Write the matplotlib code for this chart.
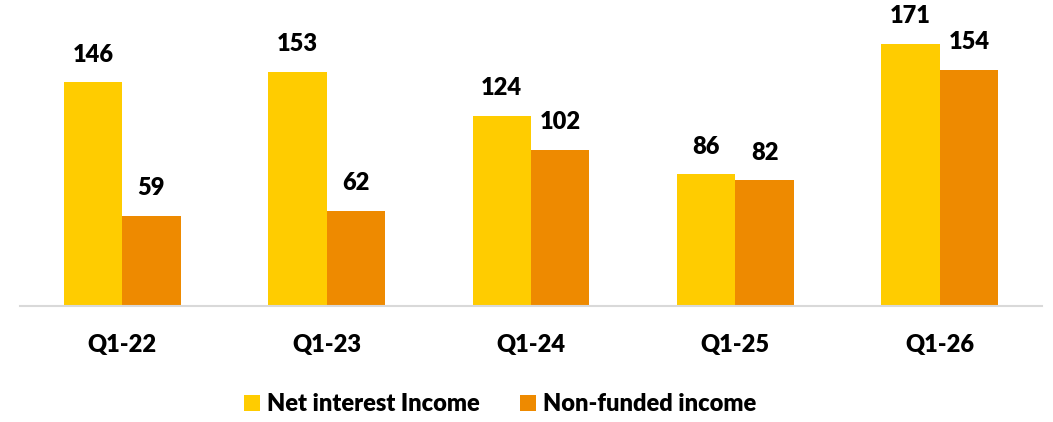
import matplotlib
matplotlib.use("Agg")
import matplotlib.pyplot as plt
import numpy as np

categories = ["Q1-22", "Q1-23", "Q1-24", "Q1-25", "Q1-26"]
net_interest = [146, 153, 124, 86, 171]
non_funded = [59, 62, 102, 82, 154]
series_names = ["Net interest Income", "Non-funded income"]

plt.rcParams['font.family'] = ['Lato', 'DejaVu Sans']
WEIGHT = "heavy"

fig = plt.figure(figsize=(10.53, 4.22), dpi=100)
ax = fig.add_axes([20/1053, 116/422, 1022/1053, 291/422])

x = np.arange(len(categories))
w = 0.286
yellow = "#FFCC00"
orange = "#EE8A00"
b1 = ax.bar(x - w/2, net_interest, w, color=yellow, label=series_names[0])
b2 = ax.bar(x + w/2, non_funded, w, color=orange, label=series_names[1])

for bars, vals in ((b1, net_interest), (b2, non_funded)):
    for r, v in zip(bars, vals):
        ax.annotate(str(v), (r.get_x() + r.get_width()/2, v), xytext=(0, 12),
                    textcoords="offset points", ha="center", va="bottom",
                    fontsize=17, fontweight=WEIGHT, color="black")

ax.set_xlim(-0.5, 4.5)
ax.set_ylim(0, 190)
ax.set_xticks(x)
ax.set_xticklabels(categories, fontsize=17, fontweight=WEIGHT)
ax.tick_params(axis="x", length=0, pad=20)
ax.set_yticks([])
for s in ("top", "right", "left"):
    ax.spines[s].set_visible(False)
ax.spines["bottom"].set_color("#D9D9D9")
ax.spines["bottom"].set_linewidth(1.5)

leg = fig.legend(handles=[b1, b2], labels=series_names, loc="center",
                 bbox_to_anchor=(500/1053, 1 - 404/422), ncol=2, frameon=False,
                 prop={"size": 17, "weight": WEIGHT}, handlelength=0.68,
                 handleheight=0.68, handletextpad=0.3, columnspacing=1.7)

fig.savefig("out.png", dpi=100)
